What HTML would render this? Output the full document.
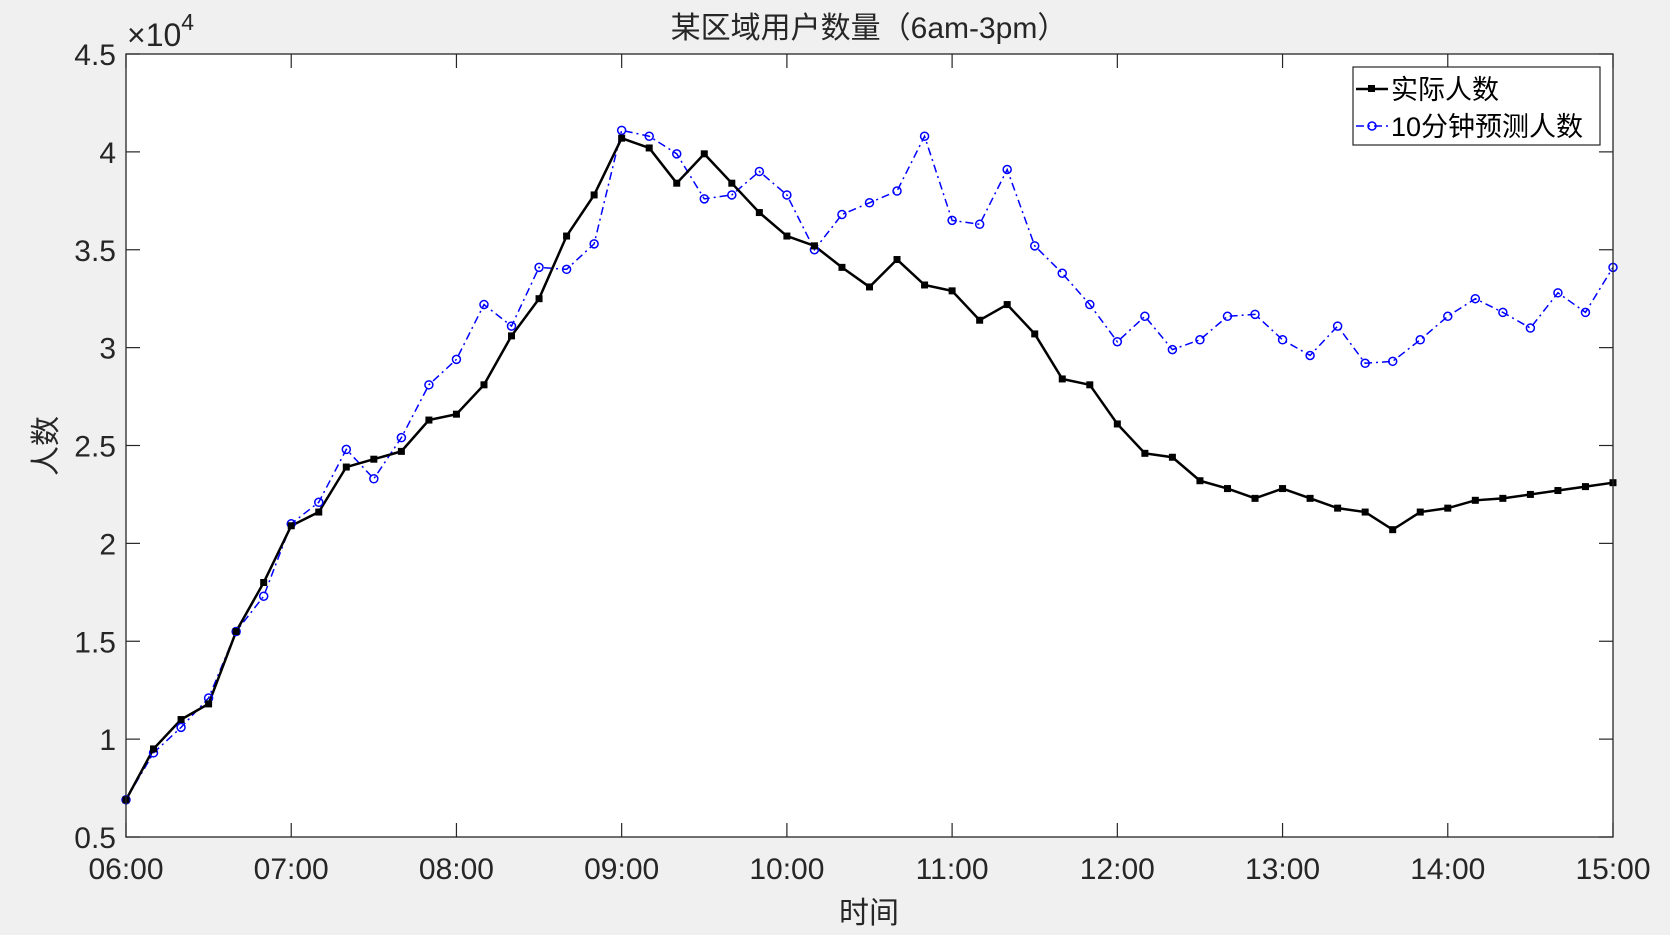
<!DOCTYPE html>
<html><head><meta charset="utf-8">
<style>
body{margin:0;background:#f0f0f0;}
svg{display:block;font-family:"Liberation Sans","Noto Sans CJK SC",sans-serif;}
</style></head><body>
<svg id="chart" width="1670" height="935" viewBox="0 0 1670 935" xmlns="http://www.w3.org/2000/svg">
<rect x="0" y="0" width="1670" height="935" fill="#f0f0f0"/>
<rect x="126" y="54" width="1487" height="783" fill="#fff"/>
<g id="grid"></g>
<g id="series"></g>
<rect x="126" y="54" width="1487" height="783" fill="none" stroke="#262626" stroke-width="1.3"/>
<text x="869" y="38" font-size="30" text-anchor="middle" fill="#262626">某区域用户数量（6am-3pm）</text>
<text x="869" y="923" font-size="30" text-anchor="middle" fill="#262626">时间</text>
<text transform="translate(56,446) rotate(-90)" font-size="30" text-anchor="middle" fill="#262626">人数</text>
<text x="127" y="46" font-size="32" fill="#262626">×10<tspan dy="-16" font-size="23">4</tspan></text>
<g>
<rect x="1353" y="67" width="247" height="78" fill="#fff" stroke="#262626" stroke-width="1.2"/>
<line x1="1356" y1="89" x2="1388" y2="89" stroke="#000" stroke-width="2.5"/>
<rect x="1368" y="85" width="7" height="7" fill="#000"/>
<text x="1391" y="99" font-size="27" fill="#000">实际人数</text>
<line x1="1356" y1="126" x2="1388" y2="126" stroke="#0000ff" stroke-width="1.5" stroke-dasharray="8,4,2,4"/>
<circle cx="1372" cy="126" r="4" fill="none" stroke="#0000ff" stroke-width="1.5"/>
<text x="1391" y="136" font-size="27" fill="#000">10分钟预测人数</text>
</g>
</svg>
<script>
const actual=[0.69,0.95,1.10,1.18,1.55,1.80,2.09,2.16,2.39,2.43,2.47,2.63,2.66,2.81,3.06,3.25,3.57,3.78,4.07,4.02,3.84,3.99,3.84,3.69,3.57,3.52,3.41,3.31,3.45,3.32,3.29,3.14,3.22,3.07,2.84,2.81,2.61,2.46,2.44,2.32,2.28,2.23,2.28,2.23,2.18,2.16,2.07,2.16,2.18,2.22,2.23,2.25,2.27,2.29,2.31];
const predicted=[0.69,0.93,1.06,1.21,1.55,1.73,2.10,2.21,2.48,2.33,2.54,2.81,2.94,3.22,3.11,3.41,3.40,3.53,4.11,4.08,3.99,3.76,3.78,3.90,3.78,3.50,3.68,3.74,3.80,4.08,3.65,3.63,3.91,3.52,3.38,3.22,3.03,3.16,2.99,3.04,3.16,3.17,3.04,2.96,3.11,2.92,2.93,3.04,3.16,3.25,3.18,3.10,3.28,3.18,3.41];
const xTickLabels=["06:00","07:00","08:00","09:00","10:00","11:00","12:00","13:00","14:00","15:00"];
const yTicks=[0.5,1,1.5,2,2.5,3,3.5,4,4.5];
const NS="http://www.w3.org/2000/svg";
const X0=126,X1=1613,Y0=837,Y1=54;
const xMin=0,xMax=54,yMin=0.5,yMax=4.5;
function sx(i){return X0+(i-xMin)/(xMax-xMin)*(X1-X0);}
function sy(v){return Y0-(v-yMin)/(yMax-yMin)*(Y0-Y1);}
function mk(t,a,p){const e=document.createElementNS(NS,t);for(const k in a)e.setAttribute(k,a[k]);p.appendChild(e);return e;}
const grid=document.getElementById('grid');
xTickLabels.forEach((l,k)=>{
  const x=sx(k*6);
  const t1=mk('line',{x1:x,y1:Y0,x2:x,y2:Y0-14,stroke:'#262626','stroke-width':1.2},grid);
  
  
  const t2=mk('line',{x1:x,y1:Y1,x2:x,y2:Y1+14,stroke:'#262626','stroke-width':1.2},grid);
  
  
  const tx=mk('text',{x:x,y:Y0+42,'font-size':30,'text-anchor':'middle',fill:'#262626'},grid);
  tx.textContent=l;
  
  
});
yTicks.forEach(v=>{
  const y=sy(v);
  const t1=mk('line',{x1:X0,y1:y,x2:X0+14,y2:y,stroke:'#262626','stroke-width':1.2},grid);
  
  
  const t2=mk('line',{x1:X1,y1:y,x2:X1-14,y2:y,stroke:'#262626','stroke-width':1.2},grid);
  
  
  const tx=mk('text',{x:X0-10,y:y+11,'font-size':30,'text-anchor':'end',fill:'#262626'},grid);
  tx.textContent=String(v);
  
  
});
const g=document.getElementById('series');
const pp=mk('polyline',{points:predicted.map((v,i)=>sx(i)+','+sy(v)).join(' '),fill:'none',stroke:'#0000ff','stroke-width':1.5,'stroke-dasharray':'8,4,2,4'},g);


const pa=mk('polyline',{points:actual.map((v,i)=>sx(i)+','+sy(v)).join(' '),fill:'none',stroke:'#000','stroke-width':2.5},g);


predicted.forEach((v,i)=>{
  const c=mk('circle',{cx:sx(i),cy:sy(v),r:4,fill:'none',stroke:'#0000ff','stroke-width':1.5},g);
  
  
});
actual.forEach((v,i)=>{
  const r=mk('rect',{x:sx(i)-3.5,y:sy(v)-3.5,width:7,height:7,fill:'#000'},g);
  
  
});
</script>
</body></html>
